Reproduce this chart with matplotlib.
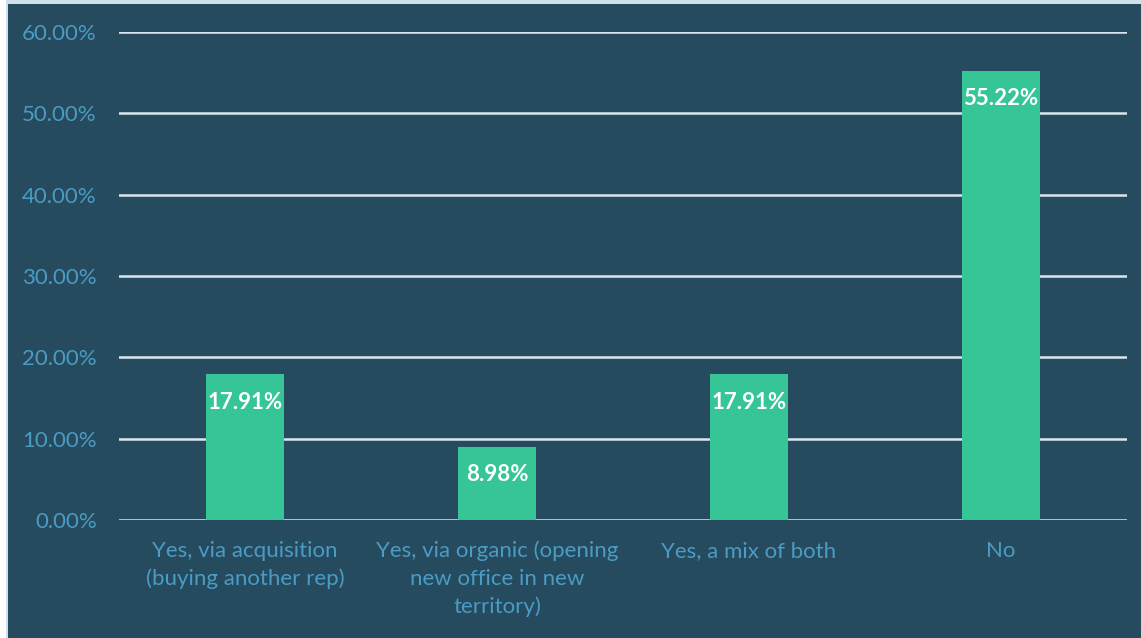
import matplotlib
matplotlib.use("Agg")
import matplotlib.pyplot as plt
from matplotlib.patches import Rectangle
from matplotlib.ticker import FuncFormatter, MultipleLocator

categories = [
    "Yes, via acquisition\n(buying another rep)",
    "Yes, via organic (opening\nnew office in new\nterritory)",
    "Yes, a mix of both",
    "No",
]
values = [17.91, 8.98, 17.91, 55.22]

BG = "#264A5E"
BAR = "#35C597"
TICK = "#4A9CC4"
GRID = "#D9E6EE"
FONT = ["Lato", "DejaVu Sans"]

fig = plt.figure(figsize=(11.41, 6.38), dpi=100, facecolor="white")

# dark panel with a thin light frame on the left and top
W, H = 1141, 638
fig.patches.append(Rectangle((6 / W, 0), 1 - 6 / W, 1, transform=fig.transFigure,
                             facecolor="#CFE0EA", edgecolor="none", zorder=-20))
fig.patches.append(Rectangle((8 / W, 0), 1 - 8 / W, 1 - 4 / H, transform=fig.transFigure,
                             facecolor=BG, edgecolor="none", zorder=-10))

ax = fig.add_axes([119 / W, 1 - 520 / H, (1127 - 119) / W, (520 - 32) / H])
ax.set_facecolor("none")

x = list(range(len(categories)))
ax.bar(x, values, width=0.31, color=BAR, zorder=3)

ax.set_xlim(-0.5, len(categories) - 0.5)
ax.set_ylim(0, 60)
ax.yaxis.set_major_locator(MultipleLocator(10))
ax.yaxis.set_major_formatter(FuncFormatter(lambda v, _: f"{v:.2f}%"))
ax.grid(axis="y", color=GRID, linewidth=1.8, zorder=1)
ax.set_axisbelow(True)
for s in ax.spines.values():
    s.set_visible(False)
ax.tick_params(axis="both", length=0, colors=TICK, labelsize=16)
ax.tick_params(axis="y", pad=16)
ax.tick_params(axis="x", pad=15)
ax.set_xticks(x)
ax.set_xticklabels(categories, fontfamily=FONT, linespacing=1.45)
for lbl in ax.get_yticklabels():
    lbl.set_fontfamily(FONT)

for xi, v in zip(x, values):
    ax.annotate(f"{v:.2f}%", (xi, v), xytext=(0, -28), textcoords="offset pixels",
                ha="center", va="center", color="white", fontsize=16,
                fontweight="bold", fontfamily=FONT, zorder=4)

fig.savefig("out.png", dpi=100, facecolor=fig.get_facecolor())
